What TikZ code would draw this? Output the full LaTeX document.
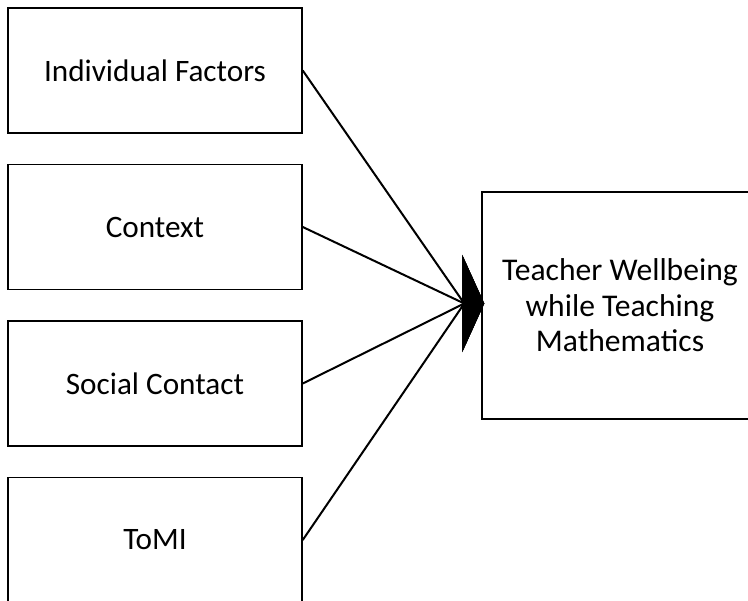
\documentclass[tikz,border=0pt]{standalone}
\usepackage{fontspec}
\setmainfont{Carlito}
\usetikzlibrary{positioning,arrows.meta}

\begin{document}
\begin{tikzpicture}[x=1pt, y=-1pt,
	factor/.style={
	rectangle, draw=black, line width=1.5pt, inner sep=0pt,
	minimum width=294pt, minimum height=125pt,
	font=\fontsize{31.2}{36}\selectfont},
	outcome/.style={factor, align=center,
	minimum width=276pt, minimum height=227pt,
	font=\fontsize{31.6}{35.5}\selectfont},
	conn/.style={line width=2pt, -{Triangle[length=22pt, width=97pt]}},
	node distance=30pt]
	\clip (0,0) rectangle (748,601);
	\node[factor] (indiv) at (155,70.5) {Individual Factors};
	\node[factor, below=of indiv] (context) {Context};
	\node[factor, below=of context] (social) {Social Contact};
	\node[factor, below=of social] (tomi) {ToMI};
	\node[outcome] (well) at (620,305.5) {Teacher Wellbeing\\while Teaching\\Mathematics};
	\coordinate (tip) at ([xshift=3pt, yshift=2pt]well.west);
	\coordinate (hub) at ([xshift=-20pt]tip);
	\draw[conn] (indiv.east) -- (hub) -- (tip);
	\draw[conn] (context.east) -- (hub) -- (tip);
	\draw[conn] (social.east) -- (hub) -- (tip);
	\draw[conn] (tomi.east) -- (hub) -- (tip);
\end{tikzpicture}
\end{document}
